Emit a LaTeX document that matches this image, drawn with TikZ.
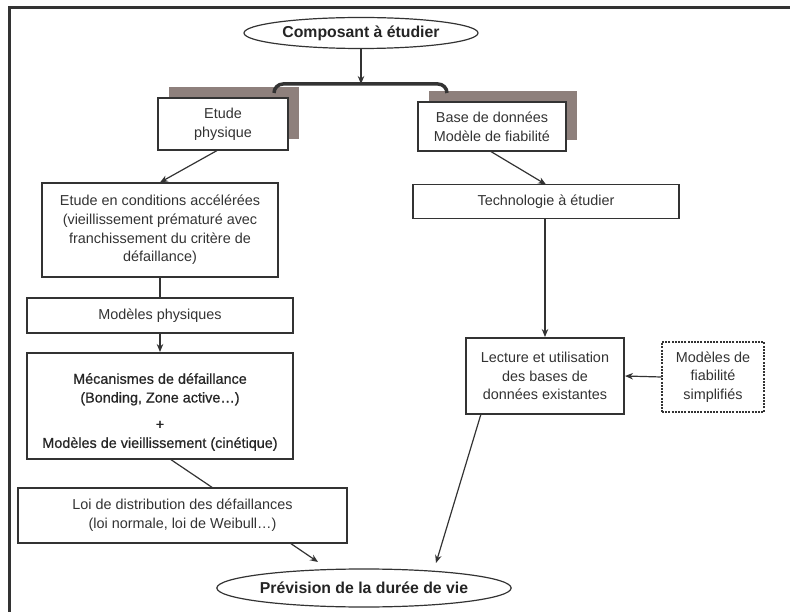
\documentclass[tikz,border=0pt]{standalone}
\usepackage{fontspec}
\setmainfont{Liberation Sans}
\newfontfamily\heavyfont[FakeBold=0.7]{Liberation Sans}
\usetikzlibrary{shapes.geometric,arrows.meta,shadows}
\definecolor{ink}{HTML}{333333}
\definecolor{shadowc}{HTML}{8E807C}
\begin{document}
\begin{tikzpicture}[x=1pt,y=-1pt,
  every node/.style={font=\fontsize{14.4}{18.7}\selectfont, text=ink},
  box/.style={draw=ink, line width=1.2pt, fill=white, align=center, inner sep=0pt},
  boldbox/.style={box, line width=2pt},
  dotbox/.style={box, dash pattern=on 2pt off 1.2pt, line width=1.4pt},
  oval/.style={ellipse, draw=ink, line width=1.2pt, fill=white, inner sep=0pt,
    font=\fontsize{15.8}{18}\selectfont\bfseries, text=ink!70!black},
  shadowbox/.style={box, drop shadow={shadow xshift=10.5pt, shadow yshift=10.5pt,
    fill=shadowc, opacity=1}},
  arr/.style={draw=ink, line width=1.2pt, -{Stealth[length=8pt,width=6.5pt]}},
  plain/.style={draw=ink, line width=1.2pt}
]
\useasboundingbox (0,0) rectangle (790,612);

% frame
\draw[ink, line width=3pt] (9.5,612) -- (9.5,7.5) -- (790,7.5);

% top and bottom ovals
\node[oval, minimum width=234pt, minimum height=31pt] (comp) at (361,33) {Composant à étudier};
\node[oval, minimum width=292pt, minimum height=38pt] (prev) at (364,588) {Prévision de la durée de vie};

% two branches with shadows
\node[shadowbox, minimum width=130pt, minimum height=52pt] (phys) at (223,124)
  {Etude\\physique};
\node[shadowbox, minimum width=148pt, minimum height=49pt] (base) at (492,126.5)
  {Base de données\\Modèle de fiabilité};

% left column
\node[box, minimum width=236pt, minimum height=94pt] (acc) at (160,230)
  {Etude en conditions accélérées\\(vieillissement prématuré avec\\franchissement du critère de\\défaillance)};
\node[box, minimum width=266pt, minimum height=35pt] (mphys) at (160,315.5)
  {Modèles physiques};
\node[boldbox, minimum width=266pt, minimum height=106pt, text=black!85] (meca) at (160,406)
  {\mbox{}\\[4pt]\heavyfont Mécanismes de défaillance\\\heavyfont(Bonding, Zone active…)\\[8pt]\heavyfont +\\\heavyfont Modèles de vieillissement (cinétique)};
\node[box, minimum width=329pt, minimum height=55pt] (loi) at (182.5,515.5)
  {Loi de distribution des défaillances\\(loi normale, loi de Weibull…)};

% right column
\node[box, minimum width=266pt, minimum height=34pt] (techno) at (546,201.5)
  {Technologie à étudier};
\node[boldbox, minimum width=158pt, minimum height=76pt] (lect) at (545,376)
  {Lecture et utilisation\\des bases de\\données existantes};
\node[dotbox, minimum width=102pt, minimum height=70pt] (simp) at (713,377)
  {Modèles de\\fiabilité\\simplifiés};

% bracket splitting into the two branches
\coordinate (fork) at (361,84);
\coordinate (lend) at (274,93);
\coordinate (rend) at (447,93);
\draw[arr] (comp.south) -- (fork);
\draw[ink, line width=3.5pt, rounded corners=9pt] (lend) -- (lend |- fork) -- (rend |- fork) -- (rend);

% connectors
\draw[arr] (218,150) -- (acc.north);
\draw[plain] (acc.south) -- (mphys.north);
\draw[arr] (mphys.south) -- (meca.north);
\draw[plain] (170,459) -- (213,488);
\draw[arr] (290,543) -- (318,562);
\draw[arr] (490,151) -- (546,184.5);
\draw[arr] (techno.south -| lect.north) -- (lect.north);
\draw[arr] (simp.west) -- (lect.east);
\draw[arr] (481,414) -- (436,563);
\end{tikzpicture}
\end{document}
